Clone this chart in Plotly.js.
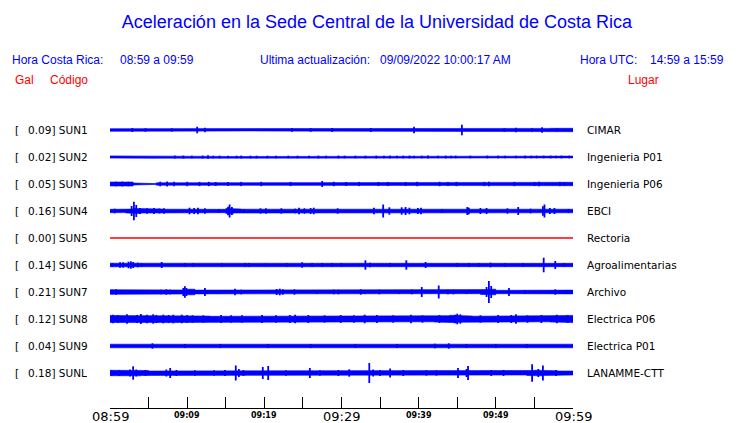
<!DOCTYPE html>
<html>
<head>
<meta charset="utf-8">
<script src="https://cdn.plot.ly/plotly-3.0.1.min.js"></script>
<style>html,body{margin:0;padding:0;background:#fff;}#chart{width:740px;height:423px;}</style>
</head>
<body>
<div id="chart"></div>
<script>
// ---------------- DATA ----------------
const codes  = ['SUN1','SUN2','SUN3','SUN4','SUN5','SUN6','SUN7','SUN8','SUN9','SUNL'];
const peaks  = ['0.09','0.02','0.05','0.16','0.00','0.14','0.21','0.12','0.04','0.18'];
const places = ['CIMAR','Ingenieria P01','Ingenieria P06','EBCI','Rectoria','Agroalimentarias','Archivo','Electrica P06','Electrica P01','LANAMME-CTT'];

const tickMinutes = [0,5,10,15,20,25,30,35,40,45,50,55,60];
const tickLabels  = ['08:59','','09:09','','09:19','','09:29','','09:39','','09:49','','09:59'];
const majorLabels = ['08:59','09:29','09:59'];

// per-minute envelope half-heights (display units), minutes 0..59
const base_SUN1 = [1.3,1.3,1.4,1.3,1.3,1.4,1.3,1.2,1.3,1.3,1.4,1.3,1.3,1.2,1.0,0.9,1.0,1.1,0.9,1.0,1.2,1.3,1.2,1.3,1.3,1.2,1.3,1.4,1.3,1.3,1.2,1.3,1.2,1.3,1.4,1.3,1.3,1.4,1.3,1.5,1.4,1.3,1.3,1.4,1.3,1.4,1.3,1.4,1.3,1.4,1.3,1.5,1.4,1.4,1.5,1.4,1.6,1.7,1.7,1.7];
const base_SUN2 = [1.1,1.3,1.2,1.3,1.2,1.3,1.2,1.1,1.0,1.1,0.9,1.1,1.0,0.9,0.6,0.5,0.7,0.5,0.8,0.7,0.5,0.5,0.5,0.6,0.5,0.5,0.6,0.5,0.5,0.9,0.8,0.5,0.6,0.5,0.6,0.5,0.6,0.8,0.7,0.8,0.9,0.8,0.7,0.9,0.8,0.7,0.5,0.5,0.6,0.5,0.5,0.6,0.5,0.5,0.8,0.9,0.8,0.9,1.0,0.9];
const base_SUN3 = [2.0,2.1,2.0,1.0,0.4,0.4,1.2,1.6,1.4,1.4,1.5,1.4,1.5,1.4,1.4,1.5,1.4,1.4,1.4,1.4,1.4,1.4,1.4,1.8,1.4,1.4,1.4,1.7,1.4,1.4,1.4,1.5,1.4,1.4,1.5,1.4,1.5,1.4,1.4,1.5,1.6,1.4,1.4,1.7,1.8,1.5,1.4,1.4,1.8,1.5,1.4,1.4,1.6,1.5,1.4,1.5,1.6,1.4,1.7,1.7];
const base_SUN4 = [1.7,1.6,1.9,2.6,2.0,1.9,1.9,1.8,2.4,2.3,2.2,2.2,1.8,1.7,1.7,2.6,2.0,1.8,1.7,1.8,1.7,1.7,1.9,1.7,1.9,2.3,2.4,1.7,1.7,1.7,1.7,1.8,1.7,1.8,1.9,2.3,2.3,2.2,2.4,1.8,1.8,1.7,1.9,1.9,1.7,1.7,2.0,2.1,2.2,2.0,1.7,1.8,1.9,1.7,1.8,1.8,2.4,2.3,1.9,1.8];
const base_SUN5 = [0,0,0,0,0,0,0,0,0,0,0,0,0,0,0,0,0,0,0,0,0,0,0,0,0,0,0,0,0,0,0,0,0,0,0,0,0,0,0,0,0,0,0,0,0,0,0,0,0,0,0,0,0,0,0,0,0,0,0,0];
const base_SUN6 = [1.8,1.9,2.2,2.0,1.8,1.7,1.7,1.7,1.7,1.7,1.7,1.7,1.7,1.7,1.7,1.7,1.7,1.8,1.9,1.7,1.7,1.7,1.7,1.7,1.7,1.7,1.8,1.9,1.8,1.8,1.7,1.7,1.7,1.8,1.7,1.7,1.7,1.7,1.7,1.7,1.7,1.7,1.7,1.7,1.7,1.7,1.7,1.7,1.7,1.8,1.7,1.8,1.7,1.7,1.7,1.7,1.7,1.8,1.7,1.7];
const base_SUN7 = [2.3,1.9,1.7,1.7,1.7,1.7,1.9,2.2,1.8,2.0,2.8,1.9,1.7,1.7,1.7,1.7,1.9,2.1,1.7,1.7,1.7,2.3,2.4,1.8,2.1,1.7,1.7,1.8,2.0,1.7,1.7,1.7,1.8,1.7,1.7,1.9,1.7,2.0,1.7,1.7,2.0,1.8,2.2,1.8,2.0,1.7,1.7,1.7,2.4,2.8,1.7,2.0,1.7,1.8,1.7,1.7,1.7,2.2,2.0,1.9];
const base_SUN8 = [3.5,3.3,3.6,3.3,3.5,3.6,3.3,3.5,3.6,3.4,3.2,3.0,2.9,2.7,2.9,2.7,2.8,2.7,2.9,2.7,2.7,2.7,2.9,2.7,2.8,3.1,2.8,3.0,2.7,2.7,2.7,3.1,3.3,3.0,2.7,2.7,2.7,3.1,2.8,2.7,2.7,2.8,3.0,3.3,3.7,3.3,3.0,2.8,2.8,3.0,3.1,3.0,2.8,2.7,2.8,3.0,2.8,3.0,3.4,3.6];
const base_SUN9 = [1.8,1.7,1.7,1.8,1.7,1.7,1.7,1.8,1.7,1.7,1.7,1.7,1.8,1.7,1.7,1.7,1.7,1.7,1.8,1.7,1.7,1.7,1.7,1.7,1.7,1.7,1.7,1.7,1.7,1.7,1.7,1.7,1.7,1.7,1.7,1.7,1.7,1.7,1.7,1.7,1.7,1.7,1.7,1.7,1.7,1.7,1.7,1.7,1.7,1.7,1.7,1.7,1.7,1.7,1.8,1.7,1.7,1.7,1.8,1.8];
const base_SUNL = [2.7,2.6,2.4,2.8,2.5,2.0,2.2,2.0,2.5,2.3,2.0,2.0,2.0,2.1,2.0,2.2,2.7,2.5,2.0,2.0,2.5,2.0,2.0,2.0,2.0,2.0,2.2,2.0,2.3,2.0,2.0,2.0,2.4,2.5,2.2,2.0,2.6,2.3,2.0,2.2,2.0,2.0,2.0,2.0,2.2,2.5,2.6,2.0,2.0,2.0,2.0,2.2,2.0,2.0,2.5,2.8,2.6,2.2,2.0,2.0];

// individual spikes: time (minutes after 08:59) and half-height
const spikeT_SUN1 = [2.9,4.6,8.0,11.3,12.3,23.6,26.0,28.8,33.8,39.4,45.6,51.1,52.6,54.7,56.0,57.9];
const spikeA_SUN1 = [2.0,1.7,1.7,3.3,2.3,1.8,1.8,2.0,2.0,3.3,5.3,1.7,2.3,1.7,2.7,1.7];
const spikeT_SUN2 = [8.4,9.5,10.6,12.0,12.7,13.4,14.2,15.3,16.4,17.0,18.2,19.0,20.4,21.5,23.1,24.3,25.8,27.0,28.0,29.6,30.4,31.8,33.1,34.5,35.5,36.3,37.2,38.0,38.8,39.4,40.4,41.2,42.5,43.5,44.2,44.8,46.7,48.9,50.3,51.2,52.6,53.8,54.6,55.3,56.2,57.1,57.8,58.5,59.5];
const spikeA_SUN2 = [1.4,1.4,1.3,1.4,1.8,1.3,1.3,1.3,1.3,1.4,1.3,1.3,1.3,1.3,1.3,1.3,1.3,1.4,1.3,1.4,1.3,1.3,1.3,1.4,1.3,1.4,1.3,1.3,1.4,1.3,1.3,1.4,1.3,1.4,1.3,1.3,1.3,1.4,1.3,1.3,1.3,1.4,1.3,1.3,1.3,1.4,1.3,1.4,1.3];
const spikeT_SUN3 = [0.8,1.6,2.4,6.5,7.4,8.3,10.0,11.6,12.8,13.7,15.3,17.0,19.6,23.4,27.5,29.0,30.6,32.3,34.8,36.0,38.3,39.8,42.7,43.8,44.9,48.5,49.1,52.4,55.0,55.6,58.3,58.9];
const spikeA_SUN3 = [2.3,2.4,2.2,2.3,2.5,2.2,2.2,2.1,2.2,2.0,2.1,2.1,2.2,2.1,3.0,2.2,2.0,2.1,2.0,2.1,2.0,2.2,2.2,2.1,2.1,2.1,2.3,2.1,2.0,2.2,2.1,2.0];
const spikeT_SUN4 = [0.6,2.8,3.1,3.4,3.9,4.8,5.7,6.4,7.0,10.3,10.9,11.4,12.3,14.1,15.3,15.5,15.8,17.3,19.5,20.2,22.2,24.0,24.5,25.2,26.0,26.4,29.5,34.2,35.4,36.2,37.8,38.3,38.8,39.9,40.3,43.0,46.3,46.5,48.0,48.8,51.5,52.9,54.5,56.1,56.3,57.0,57.6,59.4];
const spikeA_SUN4 = [2.3,5.0,9.3,6.0,3.0,2.7,3.0,2.5,2.7,3.3,3.0,3.3,2.7,1.8,4.3,6.5,4.0,2.0,2.7,2.7,2.7,2.3,3.3,2.7,3.0,3.3,2.7,3.3,6.5,3.7,3.7,4.0,3.3,3.0,3.3,2.0,4.0,3.3,3.0,3.0,2.7,4.0,2.3,4.7,6.5,3.0,3.0,2.0];
const spikeT_SUN5 = [];
const spikeA_SUN5 = [];
const spikeT_SUN6 = [0.3,1.3,1.7,2.4,2.7,3.0,3.6,4.1,6.7,9.7,10.8,14.5,17.5,18.0,20.2,22.9,24.9,26.2,27.5,28.8,30.0,33.1,33.7,36.3,38.4,40.9,45.0,46.5,47.8,49.3,51.2,53.5,56.2,57.7,58.8];
const spikeA_SUN6 = [2.0,2.7,2.7,3.3,3.7,3.0,2.3,2.0,3.0,1.8,1.8,1.8,2.0,2.0,1.5,1.8,2.7,2.0,2.0,2.0,1.8,4.7,2.3,2.0,4.7,3.0,2.0,2.0,1.8,2.3,1.8,1.8,7.3,4.0,2.0];
const spikeT_SUN7 = [0.3,0.8,1.7,2.6,3.7,5.4,6.6,7.3,7.8,8.6,9.5,9.7,9.9,10.5,12.3,14.0,16.2,17.0,21.6,22.0,22.4,23.9,26.8,29.0,29.6,32.5,33.0,34.9,37.5,39.1,40.4,42.6,43.8,44.5,46.2,48.8,49.1,49.4,51.7,53.8,57.7,59.0];
const spikeA_SUN7 = [2.3,2.7,2.0,2.0,2.0,2.0,2.3,2.7,2.3,2.0,4.0,5.8,4.0,2.3,4.0,2.0,3.3,2.3,3.0,3.3,2.7,2.7,2.0,2.3,2.3,2.7,2.0,2.3,2.0,2.3,5.0,6.5,2.3,2.3,2.0,5.0,11.0,6.0,4.0,2.0,2.7,2.0];
const spikeT_SUN8 = [0.4,1.0,2.2,3.5,4.0,4.8,5.6,6.0,6.9,7.6,8.2,9.3,10.0,10.7,12.1,14.4,15.7,17.1,19.7,21.5,23.3,24.0,25.7,27.8,29.9,31.6,33.0,34.6,36.7,39.0,40.5,42.7,44.7,45.0,45.4,48.0,50.3,52.0,52.6,54.1,55.9,57.9,59.3];
const spikeA_SUN8 = [4.3,4.0,4.7,4.0,5.0,4.3,4.7,4.0,4.3,4.0,4.3,4.3,4.0,3.7,3.7,4.0,3.7,3.7,4.0,3.7,4.0,4.3,4.0,3.7,4.0,3.7,4.3,4.0,3.7,4.3,3.7,4.0,4.3,5.3,4.7,3.7,4.0,4.0,4.7,3.7,4.0,4.3,4.0];
const spikeT_SUN9 = [5.5,9.7,14.3,20.5,26.0,31.8,37.2,42.1,43.9,46.2,50.0,54.0];
const spikeA_SUN9 = [2.7,2.0,2.0,2.0,2.0,2.0,2.0,2.3,2.7,2.0,2.0,2.0];
const spikeT_SUNL = [0.2,1.2,2.6,3.0,3.4,4.6,7.3,7.8,8.6,11.0,13.5,14.9,16.3,16.7,17.3,19.8,20.5,22.8,25.9,27.2,29.6,31.0,33.6,34.1,35.0,36.3,38.0,41.0,42.3,45.1,46.2,46.4,49.4,51.0,54.7,55.5,56.1,57.8];
const spikeA_SUNL = [2.7,3.0,3.5,6.7,3.5,3.0,3.5,5.0,3.0,2.7,2.7,3.0,7.5,4.0,3.0,6.0,7.0,2.7,5.0,2.7,3.0,3.7,10.0,3.5,3.0,4.5,3.0,2.7,2.7,5.0,4.0,7.0,3.0,3.0,8.7,4.0,7.5,3.0];

const bases  = [base_SUN1,base_SUN2,base_SUN3,base_SUN4,base_SUN5,base_SUN6,base_SUN7,base_SUN8,base_SUN9,base_SUNL];
const spikeT = [spikeT_SUN1,spikeT_SUN2,spikeT_SUN3,spikeT_SUN4,spikeT_SUN5,spikeT_SUN6,spikeT_SUN7,spikeT_SUN8,spikeT_SUN9,spikeT_SUNL];
const spikeA = [spikeA_SUN1,spikeA_SUN2,spikeA_SUN3,spikeA_SUN4,spikeA_SUN5,spikeA_SUN6,spikeA_SUN7,spikeA_SUN8,spikeA_SUN9,spikeA_SUNL];

// ---------------- DRAWING ----------------
const ROW = 27;             // display units per row
const BLUE = '#0000ff', RED = '#ff0000';
const L = 110, R = 167, T = 110, B = 15, W = 740, H = 423;
const PW = W - L - R, PH = H - T - B;
const px2x = p => (p - L) / PW;
const py2y = p => (H - B - p) / PH;

const traces = [];
codes.forEach((code, i) => {
  const color = parseFloat(peaks[i]) === 0 ? RED : BLUE;
  const b = bases[i];
  const ux = [], uy = [], lx = [], ly = [];
  b.forEach((a, m) => {
    ux.push(m, m + 1); uy.push(i - a / ROW, i - a / ROW);
    lx.push(m, m + 1); ly.push(i + a / ROW, i + a / ROW);
  });
  const xs = ux.concat(lx.slice().reverse());
  const ys = uy.concat(ly.slice().reverse());
  traces.push({
    x: xs, y: ys, type: 'scatter', mode: 'lines', fill: 'toself',
    fillcolor: color, line: {color: color, width: color === RED ? 1.3 : 0.6},
    hoverinfo: 'skip', showlegend: false
  });
  const sx = [], sy = [];
  spikeT[i].forEach((t, k) => {
    const a = spikeA[i][k];
    sx.push(t, t, null); sy.push(i - a / ROW, i + a / ROW, null);
  });
  if (sx.length) traces.push({
    x: sx, y: sy, type: 'scatter', mode: 'lines',
    line: {color: color, width: 1.8}, hoverinfo: 'skip', showlegend: false
  });
});

const annotations = [];
const labelFont = {family: 'DejaVu Sans', size: 10.5, color: '#000'};
codes.forEach((code, i) => {
  annotations.push({xref:'paper', yref:'y', x: px2x(13), y: i, xanchor:'left', yanchor:'middle', text:'[', showarrow:false, font: labelFont});
  annotations.push({xref:'paper', yref:'y', x: px2x(25.5), y: i, xanchor:'left', yanchor:'middle', text: peaks[i] + '] ' + code, showarrow:false, font: labelFont});
  annotations.push({xref:'paper', yref:'y', x: px2x(585), y: i, xanchor:'left', yanchor:'middle', text: places[i], showarrow:false, font: labelFont});
});
const hdrFont = {family: 'Liberation Sans, Arial', size: 12, color: BLUE};
const redFont = {family: 'Liberation Sans, Arial', size: 12, color: RED};
[
  ['Hora Costa Rica:', 10, 60, hdrFont],
  ['08:59 a 09:59', 118, 60, hdrFont],
  ['Ultima actualización:', 258, 60, hdrFont],
  ['09/09/2022 10:00:17 AM', 378, 60, hdrFont],
  ['Hora UTC:', 578, 60, hdrFont],
  ['14:59 a 15:59', 648, 60, hdrFont],
  ['Gal', 13, 80, redFont],
  ['Código', 48, 80, redFont],
  ['Lugar', 626, 80, redFont]
].forEach(([txt, px, py, f]) => {
  annotations.push({xref:'paper', yref:'paper', x: px2x(px), y: py2y(py), xanchor:'left', yanchor:'middle', text: txt, showarrow:false, font: f});
});
// time labels under the axis
tickMinutes.forEach((m, k) => {
  const t = tickLabels[k];
  if (!t) return;
  const major = majorLabels.includes(t);
  annotations.push({xref:'x', yref:'paper', x: m, y: py2y(major ? 416.5 : 415.5), xanchor:'center', yanchor:'middle',
    text: major ? t : '<b>' + t + '</b>', showarrow:false,
    font: {family: 'DejaVu Sans', size: major ? 13 : 8, color: '#000'}});
});

const layout = {
  width: W, height: H,
  margin: {l: L, r: R, t: T, b: B, pad: 0},
  paper_bgcolor: '#fff', plot_bgcolor: '#fff',
  title: {text: 'Aceleración en la Sede Central de la Universidad de Costa Rica',
          x: 377 / W, xanchor: 'center', xref: 'container',
          y: 1 - 22 / H, yanchor: 'middle', yref: 'container',
          font: {family: 'Liberation Sans, Arial', size: 18, color: BLUE}},
  xaxis: {range: [tickMinutes[0], tickMinutes[tickMinutes.length - 1]], tickvals: tickMinutes, showticklabels: false,
          ticks: 'inside', ticklen: 11, tickwidth: 1, tickcolor: '#000',
          showline: true, linecolor: '#000', linewidth: 1, showgrid: false, zeroline: false, fixedrange: true},
  yaxis: {range: [(H - B - 130) / ROW, -(130 - T) / ROW], visible: false, showgrid: false, zeroline: false, fixedrange: true},
  showlegend: false, hovermode: false,
  annotations: annotations
};

Plotly.newPlot('chart', traces, layout, {staticPlot: true, displayModeBar: false});
</script>
</body>
</html>
